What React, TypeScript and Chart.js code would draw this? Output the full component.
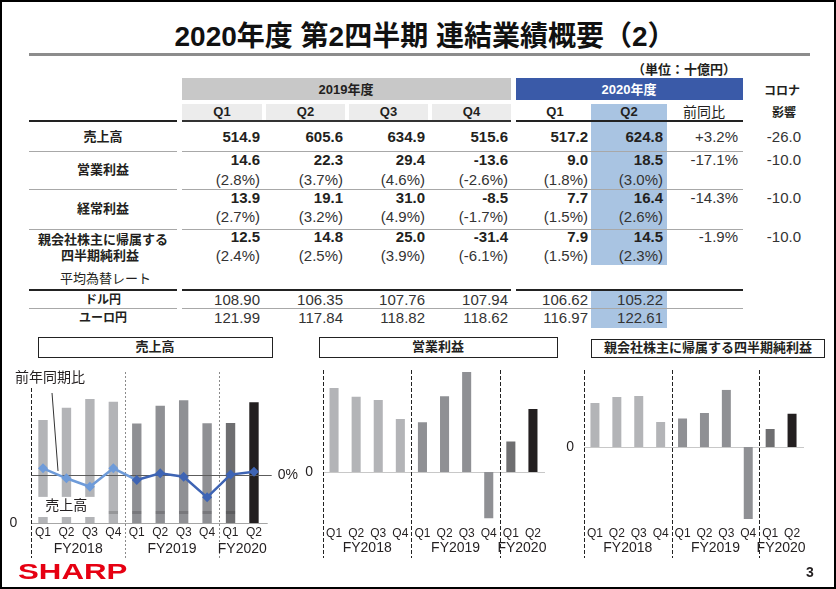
import React, { useEffect, useRef } from 'react';
import { Chart, registerables } from 'chart.js';
Chart.register(...registerables);

const SANS = '"Liberation Sans", Arial, "Noto Sans CJK JP", sans-serif';
Chart.defaults.font.family = SANS;

// ---------------- data ----------------
const quarterLabels = ['Q1', 'Q2', 'Q3', 'Q4', 'Q1', 'Q2', 'Q3', 'Q4', 'Q1', 'Q2'];
const fiscalYears = ['FY2018', 'FY2019', 'FY2020'];
const fyGroups = [[0, 3], [4, 7], [8, 9]];

const tableQuarters2019 = ['Q1', 'Q2', 'Q3', 'Q4'];
const tableQuarters2020 = ['Q1', 'Q2'];

// 売上高 (十億円)
const sales2018 = [532, 596, 641, 627];
const sales2019 = [514.9, 605.6, 634.9, 515.6];
const sales2020 = [517.2, 624.8];
// 前年同期比 (%)
const salesYoY = [6.5, -3.2, -11.4, 6.5, -4.9, 1.7, -1.7, -21.7, 0.4, 3.2];

// 営業利益
const op2018 = [24.7, 22.1, 21.2, 15.6];
const op2019 = [14.6, 22.3, 29.4, -13.6];
const op2020 = [9.0, 18.5];
const opMargin2019 = [2.8, 3.7, 4.6, -2.6];
const opMargin2020 = [1.8, 3.0];

// 経常利益
const ord2019 = [13.9, 19.1, 31.0, -8.5];
const ord2020 = [7.7, 16.4];
const ordMargin2019 = [2.7, 3.2, 4.9, -1.7];
const ordMargin2020 = [1.5, 2.6];

// 親会社株主に帰属する四半期純利益
const net2018 = [19.2, 21.8, 22.3, 10.9];
const net2019 = [12.5, 14.8, 25.0, -31.4];
const net2020 = [7.9, 14.5];
const netMargin2019 = [2.4, 2.5, 3.9, -6.1];
const netMargin2020 = [1.5, 2.3];

// 為替
const usdJpy = [108.9, 106.35, 107.76, 107.94, 106.62, 105.22];
const eurJpy = [121.99, 117.84, 118.82, 118.62, 116.97, 122.61];

const yoyTexts = ['+3.2%', '-17.1%', '-14.3%', '-1.9%'];
const coronaTexts = ['-26.0', '-10.0', '-10.0', '-10.0'];

// ---------------- styles ----------------
const C18 = '#B3B4B7';
const C19 = '#8F9094';
const C20A = '#6E6E70';
const C20B = '#231F20';
const BAR_COLORS = [C18, C18, C18, C18, C19, C19, C19, C19, C20A, C20B];
const LIGHT_BLUE = '#6E9BD9';
const DARK_BLUE = '#3E64B4';
const INK = '#231F20';

type Sep = { top: number; color: string; dash: number[] };
type DecorSpec = {
  seps: Sep[];
  sepBottom: number;
  zeroColor: string;
  zeroRightExt: number;
  zeroLabelGap: number;
  qY: number;
  fyY: number;
};

function axisDecor(spec: DecorSpec) {
  return {
    id: 'axisDecor',
    beforeDatasetsDraw(chart: any) {
      const { ctx, chartArea: a, scales } = chart;
      const x = scales.x;
      const y = scales.y;
      ctx.save();
      const y0 = Math.round(y.getPixelForValue(0)) + 0.5;
      ctx.strokeStyle = spec.zeroColor;
      ctx.lineWidth = 1;
      ctx.beginPath();
      ctx.moveTo(a.left, y0);
      ctx.lineTo(a.right + spec.zeroRightExt, y0);
      ctx.stroke();
      const bounds = [
        a.left,
        (x.getPixelForValue(3) + x.getPixelForValue(4)) / 2,
        (x.getPixelForValue(7) + x.getPixelForValue(8)) / 2,
      ];
      bounds.forEach((bx, i) => {
        const st = spec.seps[i];
        ctx.strokeStyle = st.color;
        ctx.setLineDash(st.dash);
        ctx.beginPath();
        const px = Math.round(bx) + 0.5;
        ctx.moveTo(px, st.top);
        ctx.lineTo(px, spec.sepBottom);
        ctx.stroke();
      });
      ctx.restore();
    },
    afterDraw(chart: any) {
      const { ctx, chartArea: a, scales } = chart;
      const x = scales.x;
      const y = scales.y;
      ctx.save();
      ctx.fillStyle = INK;
      ctx.textBaseline = 'middle';
      ctx.textAlign = 'center';
      ctx.font = `12px ${SANS}`;
      quarterLabels.forEach((q, i) => ctx.fillText(q, x.getPixelForValue(i), spec.qY));
      ctx.font = `14px ${SANS}`;
      fyGroups.forEach(([s, e], i) => {
        const cx = (x.getPixelForValue(s) + x.getPixelForValue(e)) / 2;
        ctx.fillText(fiscalYears[i], cx, spec.fyY);
      });
      ctx.textAlign = 'right';
      ctx.fillText('0', a.left - spec.zeroLabelGap, y.getPixelForValue(0));
      ctx.restore();
    },
  };
}

const salesExtras = {
  id: 'salesExtras',
  afterDatasetDraw(chart: any, args: any) {
    if (args.index !== 0) return;
    const { ctx, chartArea: a, scales } = chart;
    const y = scales.y;
    const meta = chart.getDatasetMeta(0);
    ctx.save();
    // break band on the bars
    const bandY = Math.round(y.getPixelForValue(62));
    ctx.fillStyle = 'rgba(0,0,0,0.16)';
    meta.data.forEach((el: any, i: number) => {
      if (i >= 3 && i <= 8) ctx.fillRect(el.x - el.width / 2, bandY, el.width, 3);
    });
    // label with white background
    const labTop = y.getPixelForValue(135);
    const labBottom = y.getPixelForValue(31);
    ctx.fillStyle = '#fff';
    ctx.fillRect(a.left + 2.7, labTop, 66, labBottom - labTop);
    ctx.fillStyle = INK;
    ctx.font = `14px ${SANS}`;
    ctx.textAlign = 'center';
    ctx.textBaseline = 'middle';
    ctx.fillText('売上高', a.left + 35, (labTop + labBottom) / 2 - 1);
    ctx.restore();
  },
  beforeDatasetDraw(chart: any, args: any) {
    if (args.index !== 1) return;
    const { ctx, chartArea: a, scales } = chart;
    const y2 = scales.y2;
    const yy = Math.round(y2.getPixelForValue(0)) + 0.5;
    ctx.save();
    ctx.strokeStyle = '#5C5C5C';
    ctx.lineWidth = 1;
    ctx.beginPath();
    ctx.moveTo(a.left, yy);
    ctx.lineTo(a.right + 6, yy);
    ctx.stroke();
    ctx.restore();
  },
  afterDraw(chart: any) {
    const { ctx, chartArea: a, scales } = chart;
    const x = scales.x;
    const y2 = scales.y2;
    ctx.save();
    ctx.fillStyle = INK;
    ctx.font = `14px ${SANS}`;
    ctx.textBaseline = 'middle';
    ctx.textAlign = 'left';
    ctx.fillText('0%', a.right + 12, y2.getPixelForValue(0));
    ctx.fillText('前年同期比', 15, 18);
    // leader line
    const x0 = x.getPixelForValue(0);
    ctx.strokeStyle = '#333';
    ctx.lineWidth = 1;
    ctx.beginPath();
    ctx.moveTo(x0 + 9, 33);
    ctx.lineTo(x0 + 15, y2.getPixelForValue(0) - 4);
    ctx.stroke();
    ctx.restore();
  },
};

const CANVAS_TOP = 360;
const CANVAS_H = 200;

function makeSalesConfig(): any {
  return {
    type: 'bar',
    data: {
      labels: quarterLabels,
      datasets: [
        {
          type: 'bar',
          data: [...sales2018, ...sales2019, ...sales2020],
          backgroundColor: BAR_COLORS,
          barPercentage: 0.4,
          categoryPercentage: 1,
          yAxisID: 'y',
          order: 1,
        },
        {
          type: 'line',
          data: salesYoY,
          yAxisID: 'y2',
          order: 0,
          borderColor: DARK_BLUE,
          borderWidth: 2.5,
          segment: { borderColor: (c: any) => (c.p0DataIndex < 4 ? LIGHT_BLUE : DARK_BLUE) },
          pointStyle: 'rectRot',
          pointRadius: 5,
          pointBorderWidth: 0,
          pointBackgroundColor: salesYoY.map((_, i) => (i < 4 ? LIGHT_BLUE : DARK_BLUE)),
          pointBorderColor: salesYoY.map((_, i) => (i < 4 ? LIGHT_BLUE : DARK_BLUE)),
          tension: 0,
        },
      ],
    },
    options: {
      animation: false,
      responsive: false,
      devicePixelRatio: 1,
      layout: { padding: { left: 31.3, right: 300 - 265.7, top: 10, bottom: 37 } },
      plugins: { legend: { display: false }, tooltip: { enabled: false } },
      scales: {
        x: { type: 'category', display: false, offset: true, grid: { display: false } },
        y: { display: false, min: 0, max: 791 },
        y2: { display: false, min: -46.6, max: 101.9 },
      },
    },
    plugins: [
      axisDecor({
        seps: [
          { top: 28, color: '#222', dash: [4, 2] },
          { top: 12, color: '#8A8A8A', dash: [2, 2] },
          { top: 12, color: '#8A8A8A', dash: [2, 2] },
        ],
        sepBottom: 198,
        zeroColor: '#A6A6A6',
        zeroRightExt: 2,
        zeroLabelGap: 14,
        qY: 173,
        fyY: 189,
      }),
      salesExtras,
    ],
  };
}

function makeProfitConfig(values: number[], yMin: number, yMax: number, pad: any): any {
  return {
    type: 'bar',
    data: {
      labels: quarterLabels,
      datasets: [
        {
          data: values,
          backgroundColor: BAR_COLORS,
          barPercentage: 0.41,
          categoryPercentage: 1,
        },
      ],
    },
    options: {
      animation: false,
      responsive: false,
      devicePixelRatio: 1,
      layout: { padding: pad },
      plugins: { legend: { display: false }, tooltip: { enabled: false } },
      scales: {
        x: { type: 'category', display: false, offset: true, grid: { display: false } },
        y: { display: false, min: yMin, max: yMax },
      },
    },
    plugins: [
      axisDecor({
        seps: [
          { top: 10, color: '#222', dash: [4, 2] },
          { top: 10, color: '#222', dash: [4, 2] },
          { top: 10, color: '#222', dash: [4, 2] },
        ],
        sepBottom: 198,
        zeroColor: '#C8C8C8',
        zeroRightExt: 1,
        zeroLabelGap: 10,
        qY: 174,
        fyY: 188,
      }),
    ],
  };
}

// ---------------- html helpers ----------------
type Align = 'left' | 'center' | 'right';
function Txt(props: {
  x: number; y: number; align?: Align; size?: number; weight?: any; color?: string; children: any; style?: any; w?: number;
}) {
  const { x, y, align = 'center', size = 15, weight = 'normal', color = INK, children, style, w = 300 } = props;
  const left = align === 'left' ? x : align === 'right' ? x - w : x - w / 2;
  return (
    <div
      style={{
        position: 'absolute',
        left,
        top: y - 12,
        width: w,
        height: 24,
        lineHeight: '24px',
        textAlign: align,
        fontSize: size,
        fontWeight: weight,
        color,
        whiteSpace: 'nowrap',
        fontFamily: SANS,
        ...style,
      }}
    >
      {children}
    </div>
  );
}

function Rect(props: { x: number; y: number; w: number; h: number; bg?: string; border?: string }) {
  const { x, y, w, h, bg = 'transparent', border } = props;
  return (
    <div
      style={{
        position: 'absolute',
        left: x,
        top: y,
        width: w,
        height: h,
        background: bg,
        border,
        boxSizing: 'border-box',
      }}
    />
  );
}

const COL_RIGHT = [260, 343, 425, 508, 588, 663];
const COL_YOY = 738;
const COL_CORONA = 801;
const LABEL_X = 103;

const fmt1 = (v: number) => v.toFixed(1);
const fmtPct = (v: number) => `(${v.toFixed(1)}%)`;

export default function App() {
  const c1 = useRef<HTMLCanvasElement>(null);
  const c2 = useRef<HTMLCanvasElement>(null);
  const c3 = useRef<HTMLCanvasElement>(null);

  useEffect(() => {
    const charts = [
      new Chart(c1.current as any, makeSalesConfig()),
      new Chart(
        c2.current as any,
        makeProfitConfig([...op2018, ...op2019, ...op2020], -17, 30, { left: 33, right: 16, top: 10, bottom: 30.2 })
      ),
      new Chart(
        c3.current as any,
        makeProfitConfig([...net2018, ...net2019, ...net2020], -35, 25, {
          left: 24,
          right: 33,
          top: 29.75,
          bottom: 32.85,
        })
      ),
    ];
    return () => charts.forEach((c) => c.destroy());
  }, []);

  const rows: any[] = [];
  const valueRow = (vals: number[], y: number, key: string) =>
    vals.forEach((v, i) =>
      rows.push(
        <Txt key={key + i} x={COL_RIGHT[i]} y={y} align="right" weight="bold">
          {fmt1(v)}
        </Txt>
      )
    );
  const pctRow = (vals: number[], y: number, key: string) =>
    vals.forEach((v, i) =>
      rows.push(
        <Txt key={key + i} x={COL_RIGHT[i]} y={y} align="right" color="#333">
          {fmtPct(v)}
        </Txt>
      )
    );
  const fxRow = (vals: number[], y: number, key: string) =>
    vals.forEach((v, i) =>
      rows.push(
        <Txt key={key + i} x={COL_RIGHT[i]} y={y} align="right" color="#333">
          {v.toFixed(2)}
        </Txt>
      )
    );

  const rowY = [137, 160, 198, 237];
  valueRow([...sales2019, ...sales2020], rowY[0], 's');
  valueRow([...op2019, ...op2020], rowY[1], 'o');
  pctRow([...opMargin2019, ...opMargin2020], 180, 'om');
  valueRow([...ord2019, ...ord2020], rowY[2], 'r');
  pctRow([...ordMargin2019, ...ordMargin2020], 217, 'rm');
  valueRow([...net2019, ...net2020], rowY[3], 'n');
  pctRow([...netMargin2019, ...netMargin2020], 256, 'nm');
  fxRow(usdJpy, 299.5, 'u');
  fxRow(eurJpy, 317.5, 'e');
  yoyTexts.forEach((t, i) =>
    rows.push(
      <Txt key={'y' + i} x={COL_YOY} y={rowY[i]} align="right" color="#333">
        {t}
      </Txt>
    )
  );
  coronaTexts.forEach((t, i) =>
    rows.push(
      <Txt key={'c' + i} x={COL_CORONA} y={rowY[i]} align="right" color="#333">
        {t}
      </Txt>
    )
  );

  const q2019Cells = [
    [182, 262],
    [266, 345],
    [349, 428],
    [432, 511],
  ];
  const q2020Centers = [555, 629];

  const hl = (x1: number, x2: number, y: number, color: string, t: number, key: string) => (
    <div key={key} style={{ position: 'absolute', left: x1, top: y, width: x2 - x1, height: t, background: color }} />
  );

  return (
    <div
      style={{
        position: 'fixed',
        left: 0,
        top: 0,
        width: 836,
        height: 589,
        background: '#fff',
        overflow: 'hidden',
        fontFamily: SANS,
      }}
    >
      {/* title */}
      <Txt x={425} y={37} size={28} weight="bold" color="#111" w={760}>
        2020年度 第2四半期 連結業績概要（2）
      </Txt>
      {hl(29, 810, 53, '#8C8C8C', 3, 'tl')}
      <Txt x={736} y={70} align="right" size={13} weight="bold">
        （単位：十億円）
      </Txt>

      {/* header bands */}
      <Rect x={182} y={78} w={329} h={22} bg="#C8C8C8" />
      <Txt x={346} y={90} size={13} weight="bold">
        2019年度
      </Txt>
      <Rect x={516} y={78} w={227} h={22} bg="#3A5AA8" />
      <Txt x={629} y={90} size={13} weight="bold" color="#fff">
        2020年度
      </Txt>
      <Txt x={782} y={91} size={12} weight="bold">
        コロナ
      </Txt>
      <Txt x={784} y={113} size={12} weight="bold">
        影響
      </Txt>

      {q2019Cells.map(([a, b], i) => (
        <Rect key={'qc' + i} x={a} y={104} w={b - a} h={16} bg="#ECECEC" />
      ))}
      {/* highlighted Q2 column */}
      <Rect x={591} y={104} w={76} h={161} bg="#A9C4E2" />
      <Rect x={591} y={290} w={76} h={38} bg="#A9C4E2" />

      {q2019Cells.map(([a, b], i) => (
        <Txt key={'q' + i} x={(a + b) / 2} y={112} size={13} weight="bold">
          {tableQuarters2019[i]}
        </Txt>
      ))}
      {q2020Centers.map((cx, i) => (
        <Txt key={'q2' + i} x={cx} y={112} size={13} weight="bold">
          {tableQuarters2020[i]}
        </Txt>
      ))}
      <Txt x={704} y={112} size={14}>
        前同比
      </Txt>

      {/* rules */}
      {hl(29, 177, 120, '#222', 2, 'h1')}
      {hl(182, 511, 120, '#333', 1.5, 'h2')}
      {hl(516, 743, 120, '#222', 1.5, 'h3')}
      {[151, 189, 229].map((y) => [
        hl(29, 177, y, '#A8A8A8', 1, 'ga' + y),
        hl(182, 743, y, '#A8A8A8', 1, 'gb' + y),
      ])}
      {hl(29, 177, 289, '#222', 2, 'b1')}
      {hl(182, 511, 289, '#222', 1.5, 'b2')}
      {hl(516, 743, 289, '#222', 1.5, 'b3')}
      {hl(29, 177, 308, '#A8A8A8', 1, 'g4')}
      {hl(182, 743, 308, '#A8A8A8', 1, 'g5')}

      {/* row labels */}
      <Txt x={LABEL_X} y={137} size={13} weight="bold">
        売上高
      </Txt>
      <Txt x={LABEL_X} y={170} size={13} weight="bold">
        営業利益
      </Txt>
      <Txt x={LABEL_X} y={209} size={13} weight="bold">
        経常利益
      </Txt>
      <Txt x={LABEL_X} y={240} size={13} weight="bold">
        親会社株主に帰属する
      </Txt>
      <Txt x={LABEL_X - 3} y={256} size={13} weight="bold">
        四半期純利益
      </Txt>
      <Txt x={60} y={279} align="left" size={13}>
        平均為替レート
      </Txt>
      <Txt x={LABEL_X} y={300} size={12} weight="bold">
        ドル円
      </Txt>
      <Txt x={LABEL_X} y={318} size={12} weight="bold">
        ユーロ円
      </Txt>

      {rows}

      {/* chart titles */}
      <Rect x={38} y={337} w={235} h={21} bg="#fff" border="1.5px solid #222" />
      <Txt x={155} y={347} size={13} weight="bold">
        売上高
      </Txt>
      <Rect x={319} y={337} w={239} h={21} bg="#fff" border="1.5px solid #222" />
      <Txt x={438} y={347} size={13} weight="bold">
        営業利益
      </Txt>
      <Rect x={591} y={339} w={234} h={19} bg="#fff" border="1.5px solid #222" />
      <Txt x={708} y={348} size={13} weight="bold">
        親会社株主に帰属する四半期純利益
      </Txt>

      {/* charts */}
      <canvas ref={c1} width={300} height={CANVAS_H} style={{ position: 'absolute', left: 0, top: CANVAS_TOP, width: 300, height: CANVAS_H }} />
      <canvas ref={c2} width={270} height={CANVAS_H} style={{ position: 'absolute', left: 290, top: CANVAS_TOP, width: 270, height: CANVAS_H }} />
      <canvas ref={c3} width={276} height={CANVAS_H} style={{ position: 'absolute', left: 560, top: CANVAS_TOP, width: 276, height: CANVAS_H }} />

      {/* footer */}
      <div
        style={{
          position: 'absolute',
          left: 18,
          top: 559,
          fontFamily: SANS,
          fontWeight: 'bold',
          fontSize: 22,
          lineHeight: '26px',
          color: '#E60012',
          transform: 'scaleX(1.42)',
          transformOrigin: 'left center',
        }}
      >
        SHARP
      </div>
      <Txt x={810} y={572} size={14} weight="bold">
        3
      </Txt>

      {/* frame */}
      <div
        style={{
          position: 'absolute',
          left: 0,
          top: 0,
          width: 836,
          height: 589,
          border: '2px solid #000',
          boxSizing: 'border-box',
          pointerEvents: 'none',
        }}
      />
    </div>
  );
}
